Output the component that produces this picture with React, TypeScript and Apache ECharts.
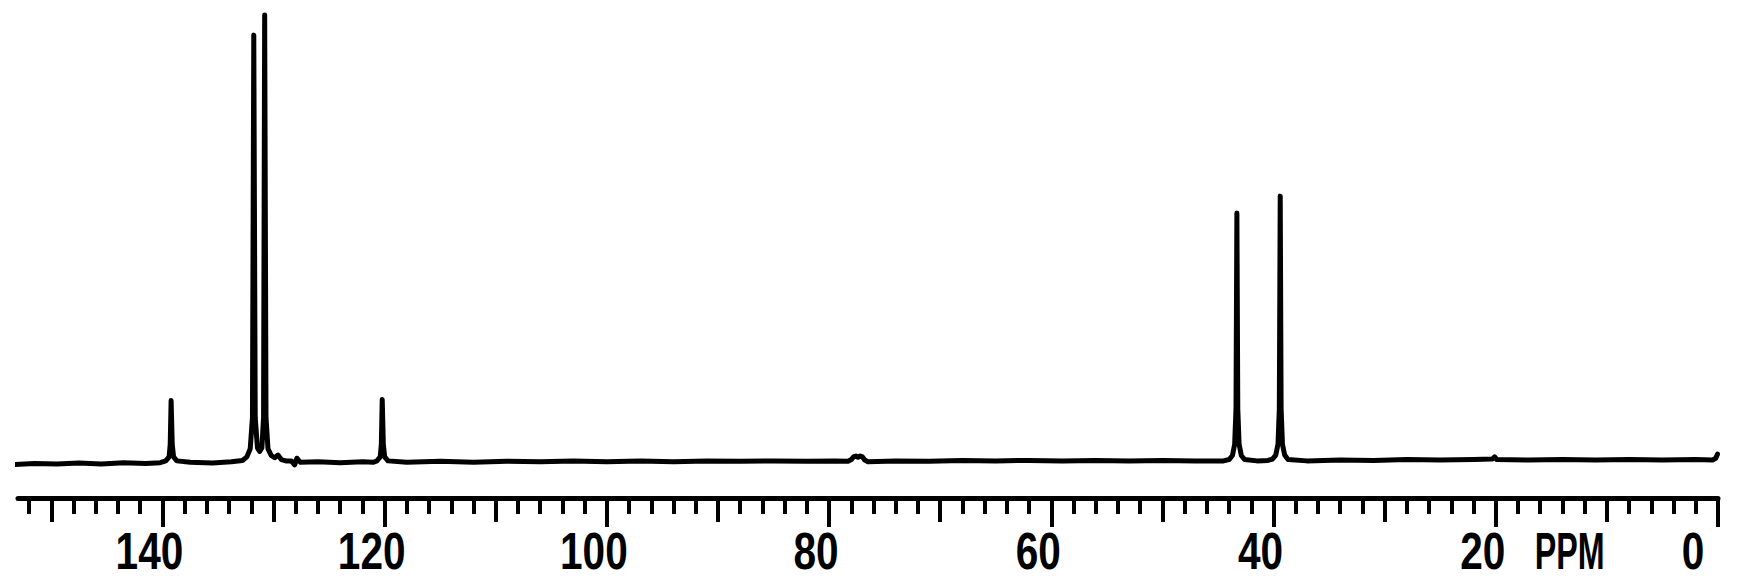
import React, { useEffect, useRef } from "react";
import * as echarts from "echarts";

// ---- Data (ppm, relative intensity) ----
const baselineLeft: number[][] = [
  [153.3, -0.5], [151.5, -0.3], [149.5, -0.4], [147.5, -0.2], [145.5, -0.4],
  [143.5, -0.1], [141.5, -0.3], [140.2, -0.1],
];
const peak139: number[][] = [
  [139.7, 0.3], [139.4, 1.2], [139.3, 4], [139.22, 13.8], [139.12, 4], [139.0, 1.2], [138.7, 0.3],
];
const baselineA: number[][] = [[137.5, 0.0], [135.5, -0.2], [133.8, 0.1]];
const doublet131: number[][] = [
  [132.8, 0.4], [132.4, 1.2], [132.1, 3], [131.9, 10], [131.78, 95.5], [131.65, 10],
  [131.45, 3.2], [131.25, 2.4], [131.05, 3.2], [130.9, 10], [130.8, 100], [130.68, 10],
  [130.5, 3], [130.2, 1.5], [129.9, 1.0], [129.6, 1.6], [129.3, 0.6], [128.9, 0.3],
  [128.4, 0.3], [128.1, -0.6], [127.9, 0.9], [127.6, 0.0],
];
const baselineB: number[][] = [[126, 0.1], [124, -0.1], [122, 0.1], [121, 0]];
const peak120: number[][] = [
  [120.7, 0.3], [120.4, 1.2], [120.3, 4], [120.22, 14], [120.12, 4], [120.0, 1.2], [119.7, 0.3],
];
const baselineC: number[][] = [
  [118, 0], [115, 0.2], [112, 0], [109, 0.2], [106, 0.1], [103, 0.3], [100, 0.1], [97, 0.3],
  [94, 0.1], [91, 0.3], [88, 0.2], [85, 0.3], [82, 0.2], [79.5, 0.3], [78.3, 0.2],
];
const solvent77: number[][] = [
  [78.0, 0.6], [77.8, 1.2], [77.6, 1.4], [77.4, 1.1], [77.2, 1.4], [77.0, 1.2], [76.8, 0.5], [76.5, 0.1],
];
const baselineD: number[][] = [
  [74, 0.3], [71, 0.2], [68, 0.4], [65, 0.3], [62, 0.4], [59, 0.3], [56, 0.4], [53, 0.3],
  [50, 0.4], [47, 0.3], [44.5, 0.3],
];
const peak43: number[][] = [
  [44.0, 0.6], [43.7, 1.5], [43.5, 4], [43.38, 12], [43.3, 55.7], [43.22, 12], [43.1, 4], [42.9, 1.5], [42.6, 0.6],
];
const baselineE: number[][] = [[41.5, 0.3], [40.5, 0.4]];
const peak39: number[][] = [
  [40.1, 0.7], [39.8, 1.6], [39.6, 4], [39.48, 12], [39.4, 59.5], [39.32, 12], [39.2, 4], [39.0, 1.6], [38.7, 0.6],
];
const baselineRight: number[][] = [
  [37, 0.3], [34, 0.5], [31, 0.4], [28, 0.6], [25, 0.5], [22, 0.6], [20.3, 0.7], [20.1, 1.2],
  [19.9, 0.6], [17, 0.5], [14, 0.6], [11, 0.5], [8, 0.6], [5, 0.5], [2, 0.6], [0.5, 0.5],
  [0.2, 0.9], [0.05, 1.8],
];

// ---- Axis ticks / labels ----
const minorTicks = [
  0, 2, 4, 6, 8, 10, 12, 14, 16, 18, 20, 22, 24, 26, 28, 30, 32, 34, 36, 38, 40, 42, 44, 46, 48,
  50, 52, 54, 56, 58, 60, 62, 64, 66, 68, 70, 72, 74, 76, 78, 80, 82, 84, 86, 88, 90, 92, 94, 96,
  98, 100, 102, 104, 106, 108, 110, 112, 114, 116, 118, 120, 122, 124, 126, 128, 130, 132, 134,
  136, 138, 140, 142, 144, 146, 148, 150, 152,
];
const mediumTicks = [0, 10, 20, 30, 40, 50, 60, 70, 80, 90, 100, 110, 120, 130, 140, 150];
const majorTicks = [0, 20, 40, 60, 80, 100, 120, 140];
const tickLabelValues = [140, 120, 100, 80, 60, 40, 20, 0, 20];
const tickLabelTexts = ["140", "120", "100", "80", "60", "40", "20", "0", "PPM"];

const FONT = "'Liberation Sans', Arimo, Arial, sans-serif";

export default function App() {
  const ref = useRef<HTMLDivElement>(null);

  useEffect(() => {
    if (!ref.current) return;
    const chart = echarts.init(ref.current, undefined, { renderer: "svg" });

    const spectrum = [
      ...baselineLeft, ...peak139, ...baselineA, ...doublet131, ...baselineB, ...peak120,
      ...baselineC, ...solvent77, ...baselineD, ...peak43, ...baselineE, ...peak39, ...baselineRight,
    ].sort((a, b) => b[0] - a[0]);

    const Y_MIN = -8;

    const baseAxis = {
      type: "value",
      inverse: true,
      min: 0,
      max: 153,
      position: "bottom",
      gridIndex: 0,
      splitLine: { show: false },
      axisLabel: { show: false },
    };

    chart.setOption({
      animation: false,
      backgroundColor: "#ffffff",
      grid: { left: 18, right: 31, top: 15, bottom: 84, outerBoundsMode: "none", containLabel: false },
      xAxis: [
        {
          ...baseAxis,
          axisLine: { show: true, onZero: false, lineStyle: { color: "#000", width: 5 } },
          axisTick: { show: true, customValues: minorTicks, length: 16, lineStyle: { color: "#000", width: 4 } },
        },
        {
          ...baseAxis,
          axisLine: { show: false, onZero: false },
          axisTick: { show: true, customValues: mediumTicks, length: 24, lineStyle: { color: "#000", width: 4 } },
        },
        {
          ...baseAxis,
          axisLine: { show: false, onZero: false },
          axisTick: { show: true, customValues: majorTicks, length: 29, lineStyle: { color: "#000", width: 4 } },
        },
      ],
      yAxis: { type: "value", min: Y_MIN, max: 100, show: false },
      series: [
        {
          type: "line",
          xAxisIndex: 0,
          data: spectrum,
          showSymbol: false,
          symbol: "none",
          clip: false,
          lineStyle: { color: "#000", width: 5, join: "round", cap: "round" },
        },
        {
          // tick labels, placed through the x axis scale, drawn condensed like the plotter font
          type: "custom",
          xAxisIndex: 0,
          clip: false,
          silent: true,
          data: tickLabelValues.map((v) => [v]),
          renderItem: (params: any, api: any) => {
            const i = params.dataIndex;
            const text = tickLabelTexts[i];
            const p = api.coord([api.value(0), Y_MIN]);
            const isUnit = text === "PPM";
            const isZero = text === "0";
            const dx = isUnit ? 39 : isZero ? -25 : -13;
            return {
              type: "text",
              x: p[0] + dx,
              y: p[1] + 53,
              scaleX: isUnit ? 0.62 : 0.78,
              style: {
                text,
                fill: "#000",
                fontFamily: FONT,
                fontWeight: "bold",
                fontSize: 52,
                align: isUnit ? "left" : "center",
                verticalAlign: "middle",
              },
            };
          },
        },
      ],
    });

    return () => chart.dispose();
  }, []);

  return (
    <div
      ref={ref}
      style={{ position: "fixed", left: 0, top: 0, width: 1749, height: 582, background: "#fff" }}
    />
  );
}
